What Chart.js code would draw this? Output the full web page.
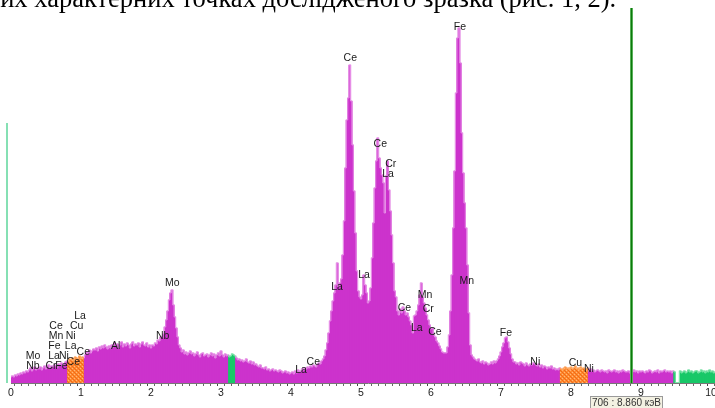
<!DOCTYPE html>
<html><head><meta charset="utf-8">
<script src="https://cdn.jsdelivr.net/npm/chart.js@4.4.1/dist/chart.umd.min.js"></script>
<style>
html,body{margin:0;padding:0;background:#fff;overflow:hidden;width:715px;height:408px;}
#wrap{position:relative;width:715px;height:408px;overflow:hidden;background:#fff;}
#c{position:absolute;left:0;top:0;}
#cap{position:absolute;left:-14px;top:-15px;font:26.5px "Liberation Serif","Times New Roman",serif;line-height:1;white-space:nowrap;color:#000;}
</style>
</head><body>
<div id="wrap">
<canvas id="c" width="725" height="408"></canvas>
<div id="cap">них характерних точках дослідженого зразка (рис. 1, 2).</div>
</div>
<script>
// ---- data (heights) ----
const startKeV = 0;
const stepKeV = 0.02;
const counts = [
6,7,6,8,7,9,8,10,9,11,
10,12,11,13,15,12,14,16,13,15,
14,16,13,15,17,14,16,18,15,17,
16,18,17,15,19,18,20,17,19,21,
22,21,24,23,25,22,26,24,25,27,
24,26,25,28,31,29,33,30,32,34,
33,35,32,36,34,37,35,38,36,34,
37,35,38,36,40,37,39,35,38,41,
36,39,37,40,38,35,39,41,37,39,
38,40,36,39,41,38,37,40,36,38,
35,38,37,40,39,43,42,46,45,49,
56,63,72,83,90,93,78,66,55,46,
38,35,31,33,29,31,28,30,32,29,
30,27,29,31,28,26,29,30,27,28,
29,26,28,30,27,29,25,28,30,27,
32,28,26,29,27,28,26,27,29,28,
27,25,23,24,22,23,21,22,24,21,
20,22,19,21,18,19,17,16,18,15,
15,14,16,13,14,12,13,14,12,13,
12,11,13,12,10,11,12,10,11,9,
10,11,9,12,10,13,11,12,14,13,
15,14,16,15,17,16,18,17,16,19,
20,19,22,24,27,33,40,50,62,72,
82,90,98,120,96,100,104,128,162,215,
263,285,318,282,238,192,150,112,92,86,
84,88,108,98,90,80,82,95,125,160,
195,222,245,225,215,208,200,170,207,222,
193,172,148,120,92,86,72,68,74,70,
76,72,68,70,66,62,58,50,67,68,
72,78,88,100,86,80,75,68,63,58,
54,55,48,46,42,40,37,34,31,30,
30,30,36,48,72,108,155,212,290,345,
355,320,250,210,180,155,118,70,38,28,
26,24,23,22,24,21,20,22,19,21,
20,18,19,21,19,22,20,22,24,27,
31,36,40,45,46,41,35,29,24,21,
21,19,20,18,21,20,19,17,20,18,
17,19,18,20,19,18,17,19,16,18,
15,17,16,14,16,15,17,14,15,13,
14,13,15,14,13,15,16,14,15,13,
16,14,15,17,14,15,13,16,14,15,
14,13,15,12,14,12,13,11,12,13,
12,11,13,12,11,12,10,13,12,11,
12,13,11,12,10,12,11,13,12,11,
11,12,10,12,11,13,11,12,10,12,
11,12,11,10,12,11,13,12,10,11,
12,11,13,10,12,11,12,13,11,12,
11,12,10,12,11,0,0,0,12,10,
11,12,10,11,13,11,12,10,11,12,
12,10,11,13,11,12,10,12,11,13,
11,12,10,11
];
// regions of interest (keV)
const roiFrom = [0.81, 3.11, 7.85, 9.47];
const roiTo   = [1.05, 3.21, 8.25, 10.2];
const roiKind = ['orange', 'green', 'orange', 'green'];
// axis ticks
const tickStep = 0.1;
const axisMin = 0, axisMax = 10.2;
// element labels: name, energy (keV), height
const lblName = ['Mo','Nb','Ce','Mn','Fe','La','Ni','Cr','Fe','La','Cu','Ni','La','Ce','Ce','Al','Nb','Mo','La','Ce','La','Ce','La','Ce','Cr','La','Ce','La','Mn','Cr','Ce','Fe','Mn','Fe','Ni','Cu','Ni'];
const lblKeV  = [0.314,0.314,0.643,0.643,0.621,0.614,0.757,0.571,0.721,0.986,0.939,0.853,0.853,1.033,0.890,1.496,2.167,2.304,4.143,4.319,4.657,4.847,5.043,5.276,5.424,5.386,5.621,5.796,5.914,5.961,6.057,6.414,6.510,7.071,7.490,8.064,8.257];
const lblH    = [27,17,57.3,47.3,37.3,27,27,17,17,67.3,57.3,47.3,37.3,30.7,20.7,37.3,47.3,100.3,13,20.7,95.7,325.3,108.3,238.7,219.3,209.3,75,55.3,88,73.5,51.3,356.3,102.3,49.7,21.3,19.7,14];
// cursor
const cursorChannel = 706;
const cursorKeV = 8.86;
const leftMarkerKeV = -0.057, leftMarkerH = 260;

// ---- styles ----
const MAG = '#cc33cc', MAG_L = '#e68ee6';
const GRN = '#18c868', GRN_L = '#80e4aa';
const pc = document.createElement('canvas'); pc.width = 4; pc.height = 4;
const pg = pc.getContext('2d');
pg.fillStyle = '#ff8a30'; pg.fillRect(0,0,4,4);
pg.fillStyle = '#ffb878'; pg.fillRect(0,0,1,1); pg.fillRect(2,2,1,1);
pg.fillStyle = '#f06a18'; pg.fillRect(2,0,1,1); pg.fillRect(0,2,1,1); pg.fillRect(1,3,1,1); pg.fillRect(3,1,1,1);
const ORG = document.createElement('canvas').getContext('2d').createPattern(pc,'repeat');
const ORG_L = '#ffa860';

function kindAt(x){
  for (let i=0;i<roiFrom.length;i++) if (x>=roiFrom[i]-1e-9 && x<roiTo[i]) return roiKind[i];
  return 'main';
}
function fillFor(x){ const k=kindAt(x); return k==='orange'?ORG:(k==='green'?GRN:MAG); }
function edgeFor(x){ const k=kindAt(x); return k==='orange'?ORG_L:(k==='green'?GRN_L:MAG_L); }

const pts = counts.map((c,i)=>({x: +(startKeV + i*stepKeV).toFixed(2), y: c}));
const ticks = [];
for (let v=0; v<=100; v++) ticks.push({value: +(v*tickStep).toFixed(1)});

const FONT = '"Liberation Sans",Arial,sans-serif';

const overlay = {
  id:'overlay',
  afterDatasetsDraw(chart){
    const {ctx, chartArea:a, scales:{x,y}} = chart;
    ctx.save();
    // left marker
    const lx = x.getPixelForValue(leftMarkerKeV);
    ctx.fillStyle = '#86e0b4';
    ctx.fillRect(Math.round(lx)-1, y.getPixelForValue(leftMarkerH), 2, a.bottom - y.getPixelForValue(leftMarkerH));
    // cursor line
    const cx = x.getPixelForValue(cursorKeV);
    ctx.fillStyle = '#58b058';
    ctx.fillRect(Math.round(cx)-1, a.top, 3, a.bottom-a.top);
    ctx.fillStyle = '#0b7a0b';
    ctx.fillRect(Math.round(cx), a.top, 1, a.bottom-a.top);
    // element labels
    ctx.font = '10.5px ' + FONT;
    ctx.textAlign = 'center'; ctx.textBaseline = 'middle';
    ctx.fillStyle = '#1a1a1a';
    lblName.forEach((n,i)=>{
      ctx.fillText(n, x.getPixelForValue(lblKeV[i]), y.getPixelForValue(lblH[i]));
    });
    // status box
    const bx = Math.round(cx) - 40.5, by = a.bottom + 13.5;
    ctx.fillStyle = '#f3f1e2';
    ctx.fillRect(bx, by, 72, 16);
    ctx.strokeStyle = '#9a9a9a'; ctx.lineWidth = 1;
    ctx.strokeRect(bx, by, 72, 16);
    ctx.fillStyle = '#333';
    ctx.font = '10px ' + FONT;
    ctx.textAlign = 'center';
    ctx.fillText(cursorChannel + ' : ' + cursorKeV.toFixed(3) + ' кэВ', bx + 36, by + 6.5);
    ctx.restore();
  }
};

new Chart(document.getElementById('c'), {
  type: 'bar',
  data: {
    datasets: [
      {
        type:'line', data: pts, stepped:'middle', pointRadius:0, borderWidth:1,
        borderColor: MAG_L, fill:false, order:0,
        segment:{ borderColor: c => edgeFor(c.p1.parsed.x) }
      },
      {
        type:'bar', data: pts, barThickness:2, order:1,
        backgroundColor: c => fillFor(c.raw ? c.raw.x : 0),
        borderWidth:0
      }
    ]
  },
  options: {
    responsive:false, animation:false, devicePixelRatio:1,
    layout:{ padding:{ left:11, top:8, right:0, bottom:0 } },
    plugins:{ legend:{display:false}, tooltip:{enabled:false} },
    scales:{
      x:{
        type:'linear', min:axisMin, max:axisMax, offset:false,
        afterBuildTicks: s => { s.ticks = ticks.map(t=>({value:t.value})); },
        afterFit: s => { s.height = 25; },
        ticks:{ autoSkip:false, maxRotation:0, padding:1, color:'#222',
          font:{ family:FONT, size:10.5 },
          callback: v => Math.abs(v - Math.round(v)) < 1e-6 ? String(Math.round(v)) : '' },
        grid:{ display:true, drawOnChartArea:false, drawTicks:true, tickLength:3,
          tickColor: c => (c.tick && Math.abs(c.tick.value-Math.round(c.tick.value))<1e-6) ? '#444' : '#666' },
        border:{ display:true, color:'#777', width:1 }
      },
      y:{ display:false, min:0, max:375 }
    }
  },
  plugins:[overlay]
});
</script>
</body></html>
